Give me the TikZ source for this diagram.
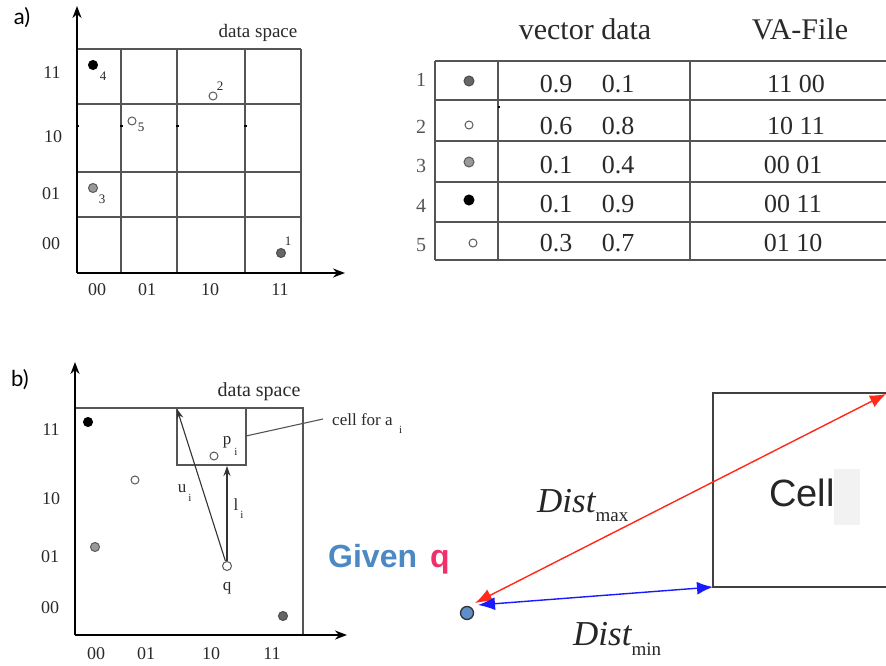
\documentclass[tikz,border=0pt]{standalone}
\usepackage{fontspec}
\setmainfont{Liberation Serif}
\newfontfamily\helv{Liberation Sans}
\newfontfamily\lato{Lato}
\usetikzlibrary{arrows.meta}
\definecolor{txt}{HTML}{2A2A2A}
\definecolor{gridc}{HTML}{555555}
\definecolor{givenblue}{HTML}{4A89C4}
\definecolor{qpink}{HTML}{F0306A}
\definecolor{qdotc}{HTML}{5E8FCB}
\definecolor{arrred}{HTML}{FF2A1A}
\definecolor{arrblue}{HTML}{1A1AFF}
\tikzset{
  fs/.style={font=\fontsize{#1}{#1}\selectfont},
  lab/.style={fs=18, text=txt, inner sep=0pt},
  small/.style={fs=13, text=txt, inner sep=0pt},
  gridline/.style={draw=gridc, line width=1.1pt},
  ticksty/.style={draw=black, line width=1.4pt},
  axisline/.style={draw=black, line width=1.8pt, arrows={-Stealth[length=12pt,width=9pt]}},
  thinarrow/.style={draw=black!80, line width=1.1pt, arrows={-Stealth[length=10pt,width=7pt]}},
  pt/.style={circle, inner sep=0pt, minimum size=9pt, line width=1pt},
  ptblack/.style={pt, fill=black, draw=black},
  ptdark/.style={pt, fill=black!60, draw=black!70},
  ptgray/.style={pt, fill=black!40, draw=black!65},
  ptopen/.style={pt, fill=white, draw=black!65, minimum size=8pt},
  head/.style={fs=30, text=txt, inner sep=0pt},
  num/.style={fs=26, text=txt, inner sep=0pt},
  rownum/.style={fs=20, text=txt!80, inner sep=0pt},
  tline/.style={draw=gridc, line width=1.2pt},
  distarrow/.style={line width=1.4pt, arrows={Latex[length=17pt,width=13pt]-Latex[length=16pt,width=13pt]}},
}
\begin{document}
\begin{tikzpicture}[x=1pt,y=-1pt]
\clip (0,0) rectangle (886,666);
\fill[white] (0,0) rectangle (886,666);

% ---------------- a) ----------------
\node[inner sep=0pt, font=\lato\fontsize{22}{22}\selectfont] (alab) at (22,18) {a)};
\coordinate (aO) at (77,273);
\coordinate (aY) at (77,6);
\coordinate (aX) at (345,273);
\foreach \x in {121,177,245,301} \draw[gridline] (\x,49) -- (\x,273);
\foreach \y in {49,104,172,217} \draw[gridline] (77,\y) -- (301,\y);
\foreach \x in {77,121,177,245} \draw[ticksty] (\x-1.5,126) -- (\x+1.5,126);
\draw[axisline] (aO) -- (aY);
\draw[axisline] (aO) -- (aX);
\node[lab, fs=19] (ads) at (258,33) {data space};
\node[lab] (ay11) at (52,73) {11};
\node[lab] (ay10) at (53,137) {10};
\node[lab] (ay01) at (51,194) {01};
\node[lab] (ay00) at (51,244) {00};
\node[lab] (ax00) at (97,290) {00};
\node[lab] (ax01) at (147,290) {01};
\node[lab] (ax10) at (210,290) {10};
\node[lab] (ax11) at (280,290) {11};
\node[ptblack] (p4) at (93,65) {};
\node[small] (l4) at (103,76) {4};
\node[ptopen] (p2) at (213,96) {};
\node[small] (l2) at (220,86) {2};
\node[ptopen] (p5) at (132,121) {};
\node[small] (l5) at (141,127) {5};
\node[ptgray] (p3) at (93,188) {};
\node[small] (l3) at (102,199) {3};
\node[ptdark] (p1) at (281,253) {};
\node[small] (l1) at (288,241) {1};

% ---------------- table ----------------
\node[head] (hvec) at (585,29) {vector data};
\node[head] (hva) at (800,29) {VA-File};
\foreach \y in {61,100,141,182,222,260} \draw[tline] (435,\y) -- (890,\y);
\draw[tline] (435,61) -- (435,260);
\draw[tline] (498,61) -- (498,260);
\draw[ticksty] (498,107) -- (500,107);
\draw[tline, line width=1.8pt] (690,61) -- (690,260);
\node[rownum] (r1) at (421,80) {1};
\node[rownum] (r2) at (421,127) {2};
\node[rownum] (r3) at (421,166) {3};
\node[rownum] (r4) at (421,206) {4};
\node[rownum] (r5) at (421,245) {5};
\node[ptdark, minimum size=10pt] (t1) at (469,81) {};
\node[ptopen] (t2) at (469,125) {};
\node[ptgray, minimum size=10pt] (t3) at (469,162) {};
\node[ptblack, minimum size=10pt] (t4) at (469,200) {};
\node[ptopen] (t5) at (473,243) {};
\node[num] (v1a) at (556,84) {0.9};
\node[num] (v1b) at (618,84) {0.1};
\node[num] (v2a) at (556,126) {0.6};
\node[num] (v2b) at (618,126) {0.8};
\node[num] (v3a) at (556,165) {0.1};
\node[num] (v3b) at (618,165) {0.4};
\node[num] (v4a) at (556,204) {0.1};
\node[num] (v4b) at (618,204) {0.9};
\node[num] (v5a) at (556,243) {0.3};
\node[num] (v5b) at (618,243) {0.7};
\node[num] (f1) at (796,84) {11 00};
\node[num] (f2) at (796,126) {10 11};
\node[num] (f3) at (793,165) {00 01};
\node[num] (f4) at (793,204) {00 11};
\node[num] (f5) at (793,243) {01 10};

% ---------------- b) ----------------
\node[inner sep=0pt, font=\lato\fontsize{22}{22}\selectfont] (blab) at (20,380) {b)};
\coordinate (bO) at (75,635);
\coordinate (bY) at (75,362);
\coordinate (bX) at (347,635);
\draw[gridline] (75,408) -- (303,408) -- (303,635);
\draw[gridline] (177,408) rectangle (246,465);
\draw[axisline] (bO) -- (bY);
\draw[axisline] (bO) -- (bX);
\node[lab, fs=20] (bds) at (259,392) {data space};
\node[lab] (by11) at (51,430) {11};
\node[lab] (by10) at (51,499) {10};
\node[lab] (by01) at (50,557) {01};
\node[lab] (by00) at (50,608) {00};
\node[lab] (bx00) at (96,654) {00};
\node[lab] (bx01) at (146,654) {01};
\node[lab] (bx10) at (211,654) {10};
\node[lab] (bx11) at (272,654) {11};
\node[ptblack] (b1) at (88,422) {};
\node[ptopen] (b2) at (135,480) {};
\node[ptgray] (b3) at (95,547) {};
\node[ptdark] (b4) at (283,616) {};
\node[ptopen] (pi) at (214,456) {};
\node[lab, fs=17] (pil) at (227,442) {p};
\node[small, fs=11] (pis) at (236,452) {i};
\node[ptopen, minimum size=9pt] (q) at (227,566) {};
\node[lab, fs=17] (ql) at (227,588) {q};
\coordinate (cellTL) at (177,409);
\coordinate (cellB) at (227,466);
\draw[thinarrow] (q) -- (cellTL);
\draw[thinarrow] (q) -- (cellB);
\node[lab, fs=17] (ul) at (182,489) {u};
\node[small, fs=11] (us) at (190,498) {i};
\node[lab, fs=17] (ll) at (236,505) {l};
\node[small, fs=11] (ls) at (242,515) {i};
\coordinate (cellR) at (246,436);
\node[lab, fs=17, anchor=base west] (cfa) at (332,425) {cell for a};
\node[small, fs=11, anchor=base west] (cfai) at (399,433) {i};
\draw[draw=gridc, line width=1.1pt] (cellR) -- (323,419);

% ---------------- right part ----------------
\node[inner sep=0pt, anchor=base west, text=givenblue, font=\helv\bfseries\fontsize{32}{32}\selectfont] (given) at (328,567) {Given};
\node[inner sep=0pt, anchor=base west, text=qpink, font=\helv\bfseries\fontsize{32}{32}\selectfont] (gq) at (430,567) {q};
\fill[black!5] (834,469) rectangle (860,525);
\draw[draw=black!75, line width=1.5pt] (890,393) -- (713,393) -- (713,587) -- (890,587);
\node[inner sep=0pt, font=\helv\fontsize{38}{38}\selectfont, text=black!85] (cell) at (802,493) {Cell};
\node[circle, inner sep=0pt, minimum size=13pt, fill=qdotc, draw=black!80, line width=1.3pt] (qd) at (467,613) {};
\coordinate (rl) at (475,603);
\coordinate (rr) at (886,394);
\coordinate (bl) at (478,605);
\coordinate (br) at (713,587);
\draw[distarrow, draw=arrred, fill=arrred] (rl) -- (rr);
\draw[distarrow, draw=arrblue, fill=arrblue] (bl) -- (br);
\node[inner sep=0pt, anchor=base west, text=black!85] (dmax) at (537,512) {\fontsize{35}{35}\selectfont\itshape Dist\fontsize{19}{19}\selectfont\upshape\raisebox{-9pt}{max}};
\node[inner sep=0pt, anchor=base west, text=black!85] (dmin) at (573,645) {\fontsize{35}{35}\selectfont\itshape Dist\fontsize{19}{19}\selectfont\upshape\raisebox{-10pt}{min}};
\end{tikzpicture}
\end{document}
